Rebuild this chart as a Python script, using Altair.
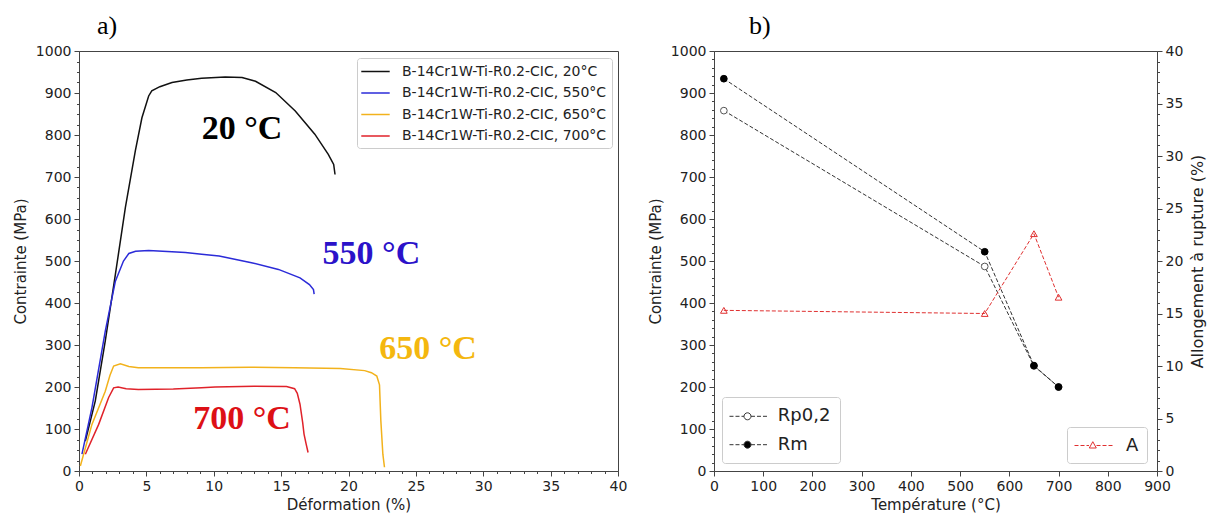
import altair as alt
import pandas as pd

# ---------------- panel a : tensile curves ----------------
series_a = ["B-14Cr1W-Ti-R0.2-CIC, 20°C", "B-14Cr1W-Ti-R0.2-CIC, 550°C",
            "B-14Cr1W-Ti-R0.2-CIC, 650°C", "B-14Cr1W-Ti-R0.2-CIC, 700°C"]
colors_a = ["#111111", "#2b2bd8", "#f2b21c", "#e0222a"]

c20_x = [0.47, 1.21, 1.95, 2.7, 3.44, 4.18, 4.67, 5.17, 5.4, 6.0, 6.9, 8.0, 9.1, 10.85, 12.1, 13.1, 14.6, 16.05, 17.5, 18.5, 18.9, 19.0]
c20_y = [71, 167, 310, 468, 627, 762, 841, 893, 905, 915, 925, 931, 935, 938, 937, 928, 901, 857, 802, 754, 730, 706]

c550_x = [0.22, 0.96, 1.95, 2.7, 3.3, 3.7, 4.2, 5.17, 6.9, 7.9, 9.1, 10.4, 12.8, 14.8, 16.4, 17.1, 17.4, 17.45]
c550_y = [40, 151, 333, 452, 500, 518, 523, 525, 522, 520, 516, 512, 496, 480, 460, 444, 432, 421]

c650_x = [0.1, 0.96, 1.95, 2.3, 2.57, 3.07, 3.7, 4.4, 9.1, 12.7, 16.0, 19.4, 21.2, 21.7, 22.1, 22.3, 22.4, 22.55, 22.67]
c650_y = [12, 111, 190, 228, 250, 255, 249, 246, 246, 247, 246, 244, 239, 234, 226, 205, 120, 40, 9]

c700_x = [0.47, 1.46, 2.2, 2.57, 2.9, 3.5, 4.4, 7.0, 9.1, 10.1, 13.0, 15.4, 16.0, 16.2, 16.4, 16.6, 16.7, 16.85, 17.0]
c700_y = [40, 111, 175, 198, 200, 196, 194, 195, 198, 200, 202, 201, 196, 185, 159, 115, 88, 65, 44]

ann_text = ["20 °C", "550 °C", "650 °C", "700 °C"]
ann_x = [12.1, 21.7, 25.9, 12.1]
ann_y = [790, 493, 267, 100]
ann_color = ["#000000", "#2b12c9", "#f4b70f", "#dd1016"]

# ---------------- panel b : properties vs temperature ----------------
temps = [20, 550, 650, 700]
rp02 = [858, 487, 250, 200]
rm = [934, 522, 251, 200]
elong = [15.3, 15.0, 22.6, 16.55]
names_b = ["Rp0,2", "Rm"]

# ---------------- tables ----------------
rows = []
for name, xs, ys in zip(series_a, [c20_x, c550_x, c650_x, c700_x], [c20_y, c550_y, c650_y, c700_y]):
    for i, (xv, yv) in enumerate(zip(xs, ys)):
        rows.append({"serie": name, "i": i, "def": xv, "sig": yv})
df_a = pd.DataFrame(rows)
df_ann = pd.DataFrame({"def": ann_x, "sig": ann_y, "txt": ann_text, "col": ann_color})

rows_b = []
for name, vals, fc, sc in [("Rp0,2", rp02, "white", "#555555"), ("Rm", rm, "black", "black")]:
    for t, v in zip(temps, vals):
        rows_b.append({"T": t, "val": v, "serie": name, "fc": fc, "sc": sc})
df_b = pd.DataFrame(rows_b)
df_A = pd.DataFrame({"T": temps, "A": elong, "serie": ["A"] * len(temps)})

# ---------------- styling helpers ----------------
FONT = "DejaVu Sans"


def ax(**kw):
    base = dict(domainColor="#444444", tickColor="#444444", labelColor="#222222",
                titleColor="#222222", labelFont=FONT, labelFontSize=14, titleFont=FONT,
                titleFontSize=15, titleFontWeight="normal", grid=False, labelOverlap=False,
                labelFlush=False, tickWidth=1, domainWidth=1, format="d")
    base.update(kw)
    return alt.Axis(**base)


def minor(step_major):
    return {"condition": {"test": f"datum.value % {step_major} === 0", "value": 5}, "value": 2.5}


def lab(step_major):
    return f"datum.value % {step_major} === 0 ? datum.label : ''"


# ---------------- panel a ----------------
xa = alt.X("def:Q", scale=alt.Scale(domain=[0, 40], nice=False),
           axis=ax(title="Déformation (%)", values=list(range(0, 41)), labelExpr=lab(5),
                   tickSize=minor(5), labelPadding=3, titlePadding=4))
ya = alt.Y("sig:Q", scale=alt.Scale(domain=[0, 1000], nice=False),
           axis=ax(title="Contrainte (MPa)", values=list(range(0, 1001, 25)), labelExpr=lab(100),
                   tickSize=minor(100), labelPadding=3, titlePadding=7))

line_path = "M-1.23,0H2.56"
curves = alt.Chart(df_a).mark_line(strokeWidth=1.5).encode(
    x=xa, y=ya, order="i:Q",
    color=alt.Color("serie:N", scale=alt.Scale(domain=series_a, range=colors_a),
                    legend=alt.Legend(orient="none", legendX=278, legendY=7, direction="vertical",
                                      title=None, symbolType=line_path, symbolSize=225,
                                      symbolStrokeWidth=1.5, labelFont=FONT, labelFontSize=14,
                                      labelColor="#222222", padding=5, rowPadding=5.5,
                                      labelOffset=23, fillColor="white", strokeColor="#cccccc",
                                      cornerRadius=3, labelLimit=400)))
ann = alt.Chart(df_ann).mark_text(font="Liberation Serif", fontWeight="bold", fontSize=34,
                                  align="center", baseline="alphabetic").encode(
    x=xa, y=ya, text="txt:N", color=alt.Color("col:N", scale=None))

panel_a = alt.layer(curves, ann).properties(
    width=539, height=420,
    title=alt.TitleParams("a)", anchor="start", frame="group", dx=18, font="Liberation Serif",
                          fontSize=26, fontWeight="normal", color="black", offset=5))

# ---------------- panel b ----------------
xs_b = alt.Scale(domain=[0, 900], nice=False)
ys_b = alt.Scale(domain=[0, 1000], nice=False)
ys_A = alt.Scale(domain=[0, 40], nice=False)

xb_axis = alt.X("T:Q", scale=xs_b, axis=ax(title="Température (°C)", values=list(range(0, 901, 100)),
                                           tickSize=5, labelPadding=3, titlePadding=4))
xb_none = alt.X("T:Q", scale=xs_b, axis=None)
yb_axis = alt.Y("val:Q", scale=ys_b, axis=ax(title="Contrainte (MPa)", values=list(range(0, 1001, 20)),
                                             labelExpr=lab(100), tickSize=minor(100),
                                             labelPadding=3, titlePadding=7))
yb_none = alt.Y("val:Q", scale=ys_b, axis=None)

b_lines = alt.Chart(df_b).mark_line(strokeDash=[4, 2], strokeWidth=1, color="#333333").encode(
    x=xb_axis, y=yb_axis, detail="serie:N")
b_pts = alt.Chart(df_b).mark_point(size=45, strokeWidth=1, opacity=1).encode(
    x=xb_none, y=yb_none,
    fill=alt.Fill("fc:N", scale=None), stroke=alt.Stroke("sc:N", scale=None))

A_line = alt.Chart(df_A).mark_line(strokeDash=[4, 2], strokeWidth=1, color="#e03030").encode(
    x=xb_none,
    y=alt.Y("A:Q", scale=ys_A, axis=ax(title="Allongement à rupture (%)", orient="right",
                                         values=list(range(0, 41)), labelExpr=lab(5),
                                         tickSize=minor(5), labelPadding=3, titlePadding=7,
                                         titleAngle=270, titleBaseline="top", titleFontSize=16)))
A_pts = alt.Chart(df_A).mark_point(shape="triangle-up", size=45, strokeWidth=1, color="#e03030",
                                   filled=False, opacity=1).encode(
    x=xb_none, y=alt.Y("A:Q", scale=ys_A, axis=None))

rp_path = ("M-1.18,0H-0.78M-0.58,0H-0.18M0.02,0H0.27M0.97,0H1.37M1.57,0H1.97M2.17,0H2.57"
           "M0.97,0A0.35,0.35,0,1,0,0.27,0A0.35,0.35,0,1,0,0.97,0Z")
A_path = ("M-1.1,0H-0.7M-0.5,0H-0.1M0.1,0H0.35M1.1,0H1.5M1.7,0H2.1M2.3,0H2.7"
          "M0.73,-0.38L1.08,0.25L0.38,0.25Z")

leg_b = dict(orient="none", direction="vertical", title=None, symbolSize=400,
             labelFont=FONT, labelFontSize=18, labelColor="#222222", fillColor="white",
             strokeColor="#cccccc", cornerRadius=3, symbolStrokeWidth=1, symbolOpacity=1)

legend_rm = alt.Chart(df_b).transform_filter("false").mark_point(
    stroke="#333333", strokeWidth=1, opacity=1).encode(
    shape=alt.Shape("serie:N", scale=alt.Scale(domain=names_b, range=[rp_path, rp_path]),
                    legend=alt.Legend(legendX=8, legendY=346, padding=8.8, rowPadding=8.4,
                                      labelOffset=26, **leg_b)),
    fill=alt.Fill("serie:N", scale=alt.Scale(domain=names_b, range=["white", "black"]),
                  legend=alt.Legend(legendX=8, legendY=346, padding=8.8, rowPadding=8.4,
                                    labelOffset=26, **leg_b)))
legend_A = alt.Chart(df_A).transform_filter("false").mark_point(
    stroke="#e03030", strokeWidth=1, filled=False, opacity=1).encode(
    shape=alt.Shape("serie:N", scale=alt.Scale(domain=["A"], range=[A_path]),
                    legend=alt.Legend(legendX=353, legendY=376, padding=8, labelOffset=30, **leg_b)))

panel_b = alt.layer(b_lines, b_pts, A_line, A_pts, legend_rm, legend_A).resolve_scale(
    x="independent", y="independent", shape="independent", fill="independent").properties(
    width=443, height=420,
    title=alt.TitleParams("b)", anchor="start", frame="group", dx=35, font="Liberation Serif",
                          fontSize=26, fontWeight="normal", color="black", offset=5))

chart = alt.hconcat(panel_a, panel_b, spacing=96, bounds="flush").properties(
    padding={"left": 4, "top": 4, "right": 4, "bottom": 4}
).configure_view(stroke="#444444", strokeWidth=1)

chart.save("out.html", embed_options={"renderer": "svg", "actions": False})
